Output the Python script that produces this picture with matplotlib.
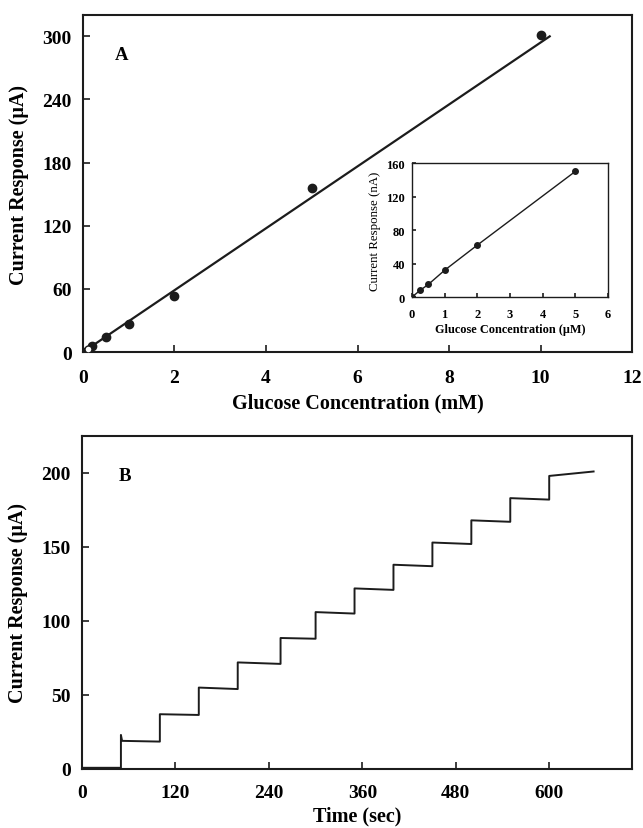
import numpy as np
import matplotlib.pyplot as plt

plt.rcParams["font.family"] = ["Liberation Serif", "DejaVu Serif"]
plt.rcParams["font.weight"] = "bold"
plt.rcParams["axes.labelweight"] = "bold"

INK = "#1c1c1c"

# panel A: calibration, mM
conc_mm = [0, 0.2, 0.5, 1, 2, 5, 10]
resp_ua = [0, 5.5, 14, 27, 53, 156, 301]
open_conc_mm = [0.1]
open_resp_ua = [3]
fit_slope = 29.4
fit_intercept = 0.0
fit_end_mm = 10.2

# inset: low range, uM
conc_um = [0, 0.25, 0.5, 1, 2, 5]
resp_na = [0, 8, 15, 32, 62, 150]

# panel B: amperometric steps
step_times = [50, 100, 150, 200, 255, 300, 350, 400, 450, 500, 550, 600]
end_time = 657
plateau_start = [19, 37, 55, 72, 88.5, 106, 122, 138, 153, 168, 183, 198]
plateau_end = [18.5, 36.5, 54, 71, 88, 105, 121, 137, 152, 167, 182, 201]
overshoot = [23, 0, 0, 0, 0, 0, 0, 0, 0, 0, 0, 0]
baseline = 0.8


def style_axes(ax, lw=1.5, tick_len=5):
    for s in ax.spines.values():
        s.set_linewidth(lw)
        s.set_color(INK)
    ax.tick_params(direction="in", length=tick_len, width=1.2, color=INK,
                   top=False, right=False)


fig = plt.figure(figsize=(6.43, 8.29), dpi=100)

# ---- panel A
axA = fig.add_axes([0.129, 0.574, 0.854, 0.4065])
axA.plot(conc_mm, resp_ua, "o", color=INK, ms=6, zorder=3)
axA.plot(open_conc_mm, open_resp_ua, "o", mfc="white", mec=INK, ms=5, mew=1, zorder=3)
fx = np.array([0, fit_end_mm])
axA.plot(fx, fit_slope * fx + fit_intercept, color=INK, lw=1.6)
axA.set_xlim(0, 12)
axA.set_ylim(0, 320)
axA.set_xticks(range(0, 13, 2))
axA.set_yticks(range(0, 301, 60))
axA.set_xlabel("Glucose Concentration (mM)", fontsize=14.5, labelpad=5)
axA.set_ylabel("Current Response (μA)", fontsize=14.5, labelpad=10)
axA.tick_params(labelsize=14, pad=8)
axA.tick_params(axis="x", pad=12)
style_axes(axA)
axA.text(0.07, 0.884, "A", transform=axA.transAxes, fontsize=13.5,
         ha="center", va="center")

# ---- inset
axI = fig.add_axes([0.6407, 0.6405, 0.3048, 0.1616])
axI.plot(conc_um, resp_na, "-o", color=INK, ms=4, lw=1)
axI.set_xlim(0, 6)
axI.set_ylim(0, 160)
axI.set_xticks(range(0, 7))
axI.set_yticks(range(0, 161, 40))
axI.set_xlabel("Glucose Concentration (μM)", fontsize=8.8, labelpad=2)
axI.set_ylabel("Current Response (nA)", fontsize=9.3, fontweight="normal", labelpad=4)
axI.tick_params(labelsize=9, pad=5)
axI.tick_params(axis="x", pad=8)
style_axes(axI, lw=1.0, tick_len=3)

# ---- panel B
t = [0, step_times[0]]
y = [baseline, baseline]
bounds = step_times[1:] + [end_time]
for i, t0 in enumerate(step_times):
    if overshoot[i]:
        t += [t0, t0 + 1.5]
        y += [overshoot[i], plateau_start[i]]
    else:
        t.append(t0)
        y.append(plateau_start[i])
    t.append(bounds[i])
    y.append(plateau_end[i])

axB = fig.add_axes([0.1275, 0.0712, 0.855, 0.4017])
axB.plot(t, y, color=INK, lw=1.4)
axB.set_xlim(0, 706)
axB.set_ylim(0, 225)
axB.set_xticks(range(0, 601, 120))
axB.set_yticks(range(0, 201, 50))
axB.set_xlabel("Time (sec)", fontsize=14.5, labelpad=3)
axB.set_ylabel("Current Response (μA)", fontsize=14.5, labelpad=10)
axB.tick_params(labelsize=14, pad=8)
axB.tick_params(axis="x", pad=11)
style_axes(axB)
axB.text(0.078, 0.88, "B", transform=axB.transAxes, fontsize=13.5,
         ha="center", va="center")

fig.savefig("out.png", dpi=100)
